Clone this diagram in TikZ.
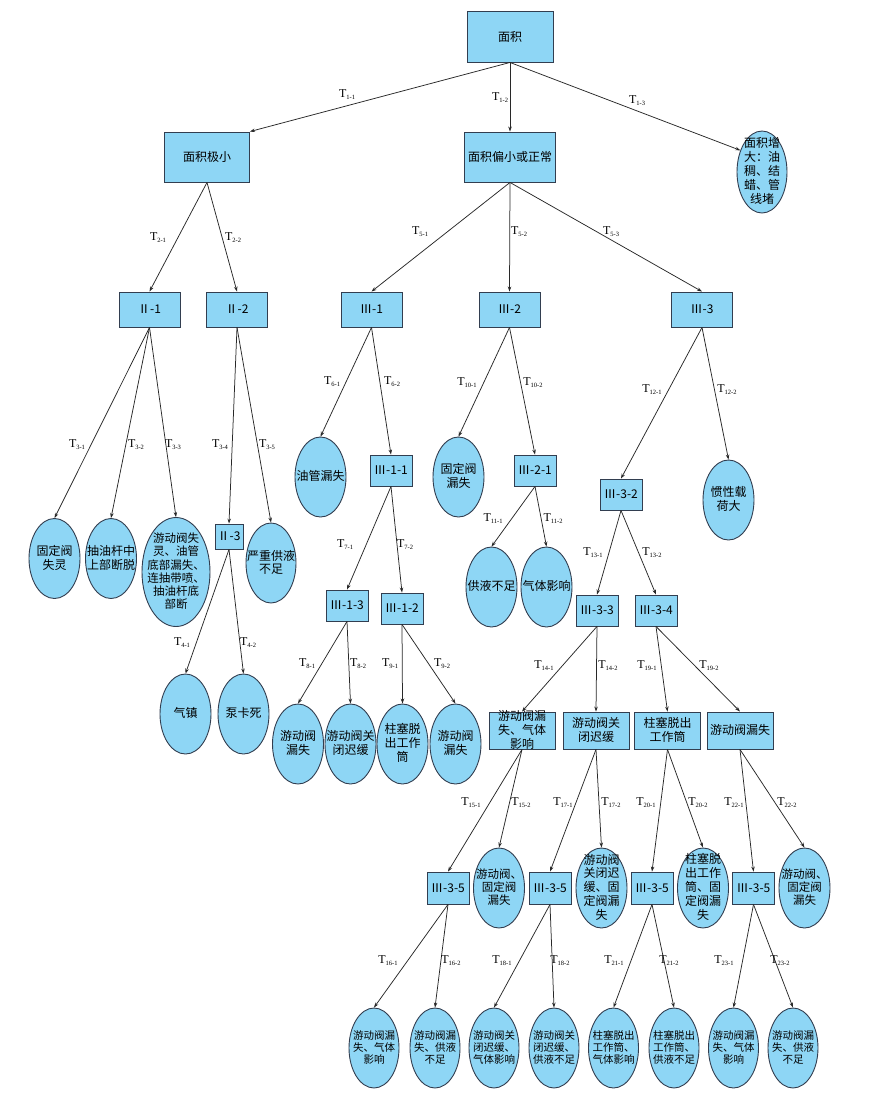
\documentclass[tikz,border=0pt]{standalone}
\usepackage{fontspec}
\newfontfamily\cjk{Noto Sans CJK SC}
\newfontfamily\tfont{Liberation Serif}
\usetikzlibrary{shapes.geometric,arrows.meta}
\definecolor{fillc}{RGB}{142,214,245}
\definecolor{linec}{RGB}{50,62,80}
\definecolor{edgec}{RGB}{40,40,40}
\newcommand\ml[1]{\smash{\makebox[0pt]{\raisebox{-3.5pt}{\begin{tabular}{@{}c@{}}#1\end{tabular}}}}}
\newcommand\tl[1]{{\tfont\fontsize{12}{12}\selectfont T\raisebox{-2pt}{\fontsize{6.5}{6.5}\selectfont #1}}}
\begin{document}
\begin{tikzpicture}[x=1pt,y=-1pt,
 box/.style={draw=linec,line width=0.9pt,fill=fillc,rectangle,inner sep=0pt,font=\cjk\fontsize{12}{12.5}\selectfont},
 ell/.style={draw=linec,line width=0.9pt,fill=fillc,ellipse,inner sep=0pt,minimum width=51pt,minimum height=80pt,font=\cjk\fontsize{12}{12.5}\selectfont},
 bx/.style={minimum width=61pt,minimum height=35pt},
 sbx/.style={minimum width=42pt,minimum height=31pt},
 rbx/.style={minimum width=66pt,minimum height=37pt},
 small/.style={font=\cjk\fontsize{10.5}{11.5}\selectfont},
 arr/.style={draw=edgec,line width=0.75pt,-{Stealth[length=5pt,width=3.5pt]}},
 lab/.style={inner sep=0pt}
]
\useasboundingbox[fill=white] (0,0) rectangle (869,1098);

% nodes
\node[box,minimum width=86pt,minimum height=51pt] (root) at (510,36.5) {面积};
\node[box,minimum width=85pt,minimum height=50pt] (a1) at (207,157) {面积极小};
\node[box,minimum width=91pt,minimum height=50pt] (a2) at (510,157) {面积偏小或正常};
\node[ell,minimum width=50pt,minimum height=82pt,font=\cjk\fontsize{12}{13}\selectfont] (a3) at (762,172) {\ml{面积增\\大：油\\稠、结\\蜡、管\\线堵}};

\node[box,bx] (b1) at (149.5,309.5) {Ⅱ-1};
\node[box,bx] (b2) at (237,309.5) {Ⅱ-2};
\node[box,bx] (c1) at (371.5,309.5) {Ⅲ-1};
\node[box,bx] (c2) at (509.5,309.5) {Ⅲ-2};
\node[box,bx] (c3) at (702,309.5) {Ⅲ-3};

\node[ell] (d1) at (54.5,558.5) {\ml{固定阀\\失灵}};
\node[ell] (d2) at (111,558.5) {\ml{抽油杆中\\上部断脱}};
\node[ell,minimum width=68pt,minimum height=109pt,font=\cjk\fontsize{11.5}{11.7}\selectfont] (d3) at (176,572) {\ml{游动阀失\\灵、油管\\底部漏失、\\连抽带喷、\\抽油杆底\\部断}};
\node[box,minimum width=28pt,minimum height=25pt] (b3) at (229,536.5) {Ⅱ-3};
\node[ell,minimum width=50pt] (d4) at (271,563) {\ml{严重供液\\不足}};
\node[ell] (d5) at (320.5,477) {\ml{油管漏失}};
\node[box,sbx] (c11) at (391,470.5) {Ⅲ-1-1};
\node[box,sbx] (c13) at (347,605.5) {Ⅲ-1-3};
\node[box,sbx] (c12) at (402,608.5) {Ⅲ-1-2};
\node[ell] (d6) at (458.5,477) {\ml{固定阀\\漏失}};
\node[box,sbx] (c21) at (535,470.5) {Ⅲ-2-1};
\node[ell] (d7) at (491.5,587) {\ml{供液不足}};
\node[ell] (d8) at (546.5,587) {\ml{气体影响}};
\node[box,sbx] (c32) at (621,494.5) {Ⅲ-3-2};
\node[ell] (d9) at (728.5,500) {\ml{惯性载\\荷大}};
\node[box,sbx] (c33) at (597,610.5) {Ⅲ-3-3};
\node[box,sbx] (c34) at (656,610.5) {Ⅲ-3-4};

\node[ell] (e1) at (185.5,714) {\ml{气镇}};
\node[ell] (e2) at (243.5,714) {\ml{泵卡死}};
\node[ell] (e3) at (298,744) {\ml{游动阀\\漏失}};
\node[ell] (e4) at (350.5,744) {\ml{游动阀关\\闭迟缓}};
\node[ell] (e5) at (402.5,744) {\ml{柱塞脱\\出工作\\筒}};
\node[ell] (e6) at (455.5,744) {\ml{游动阀\\漏失}};

\node[box,rbx] (f1) at (522,730.5) {\ml{游动阀漏\\失、气体\\影响}};
\node[box,rbx] (f2) at (596,730.5) {\ml{游动阀关\\闭迟缓}};
\node[box,rbx] (f3) at (667.5,730.5) {\ml{柱塞脱出\\工作筒}};
\node[box,rbx] (f4) at (740,730.5) {\ml{游动阀漏失}};

\node[box,sbx,minimum height=32pt] (g1) at (448,888) {Ⅲ-3-5};
\node[box,sbx,minimum height=32pt] (g2) at (550,888) {Ⅲ-3-5};
\node[box,sbx,minimum height=32pt] (g3) at (652,888) {Ⅲ-3-5};
\node[box,sbx,minimum height=32pt] (g4) at (753.5,888) {Ⅲ-3-5};
\node[ell,font=\cjk\fontsize{11.5}{11.7}\selectfont] (h1) at (499,888) {\ml{游动阀、\\固定阀\\漏失}};
\node[ell] (h2) at (601.5,888) {\ml{游动阀\\关闭迟\\缓、固\\定阀漏\\失}};
\node[ell] (h3) at (703,888) {\ml{柱塞脱\\出工作\\筒、固\\定阀漏\\失}};
\node[ell,font=\cjk\fontsize{11.5}{11.7}\selectfont] (h4) at (804.5,888) {\ml{游动阀、\\固定阀\\漏失}};

\node[ell,small,minimum width=50pt] (k1) at (374,1048) {\ml{游动阀漏\\失、气体\\影响}};
\node[ell,small,minimum width=50pt] (k2) at (435,1048) {\ml{游动阀漏\\失、供液\\不足}};
\node[ell,small,minimum width=50pt] (k3) at (494,1048) {\ml{游动阀关\\闭迟缓、\\气体影响}};
\node[ell,small,minimum width=50pt] (k4) at (554,1048) {\ml{游动阀关\\闭迟缓、\\供液不足}};
\node[ell,small,minimum width=50pt] (k5) at (613.5,1048) {\ml{柱塞脱出\\工作筒、\\气体影响}};
\node[ell,small,minimum width=50pt] (k6) at (674,1048) {\ml{柱塞脱出\\工作筒、\\供液不足}};
\node[ell,small,minimum width=50pt] (k7) at (733.5,1048) {\ml{游动阀漏\\失、气体\\影响}};
\node[ell,small,minimum width=50pt] (k8) at (793,1048) {\ml{游动阀漏\\失、供液\\不足}};

% edges
\draw[arr] (root.south) -- (a1.north east);
\draw[arr] (root.south) -- (a2.north);
\draw[arr] (root.south) -- (a3.135);
\draw[arr] (a1.south) -- (b1.north);
\draw[arr] (a1.south) -- (b2.north);
\draw[arr] (a2.south) -- (c1.north);
\draw[arr] (a2.south) -- (c2.north);
\draw[arr] (a2.south) -- (c3.north);
\draw[arr] (b1.south) -- (d1.north);
\draw[arr] (b1.south) -- (d2.north);
\draw[arr] (b1.south) -- (d3.north);
\draw[arr] (b2.south) -- (b3.north);
\draw[arr] (b2.south) -- (d4.north);
\draw[arr] (b3.south) -- (e1.north);
\draw[arr] (b3.south) -- (e2.north);
\draw[arr] (c1.south) -- (d5.north);
\draw[arr] (c1.south) -- (c11.north);
\draw[arr] (c11.south) -- (c13.north);
\draw[arr] (c11.south) -- (c12.north);
\draw[arr] (c13.south) -- (e3.north);
\draw[arr] (c13.south) -- (e4.north);
\draw[arr] (c12.south) -- (e5.north);
\draw[arr] (c12.south) -- (e6.north);
\draw[arr] (c2.south) -- (d6.north);
\draw[arr] (c2.south) -- (c21.north);
\draw[arr] (c21.south) -- (d7.north);
\draw[arr] (c21.south) -- (d8.north);
\draw[arr] (c3.south) -- (c32.north);
\draw[arr] (c3.south) -- (d9.north);
\draw[arr] (c32.south) -- (c33.north);
\draw[arr] (c32.south) -- (c34.north);
\draw[arr] (c33.south) -- (f1.north);
\draw[arr] (c33.south) -- (f2.north);
\draw[arr] (c34.south) -- (f3.north);
\draw[arr] (c34.south) -- (f4.north);
\draw[arr] (f1.south) -- (g1.north);
\draw[arr] (f1.south) -- (h1.north);
\draw[arr] (f2.south) -- (g2.north);
\draw[arr] (f2.south) -- (h2.north);
\draw[arr] (f3.south) -- (g3.north);
\draw[arr] (f3.south) -- (h3.north);
\draw[arr] (f4.south) -- (g4.north);
\draw[arr] (f4.south) -- (h4.north);
\draw[arr] (g1.south) -- (k1.north);
\draw[arr] (g1.south) -- (k2.north);
\draw[arr] (g2.south) -- (k3.north);
\draw[arr] (g2.south) -- (k4.north);
\draw[arr] (g3.south) -- (k5.north);
\draw[arr] (g3.south) -- (k6.north);
\draw[arr] (g4.south) -- (k7.north);
\draw[arr] (g4.south) -- (k8.north);

% edge labels
\node[lab] (t11) at (347,95) {\tl{1-1}};
\node[lab] (t12) at (500,98) {\tl{1-2}};
\node[lab] (t13) at (637,101) {\tl{1-3}};
\node[lab] (t21) at (158,238) {\tl{2-1}};
\node[lab] (t22) at (233,238) {\tl{2-2}};
\node[lab] (t51) at (420,232) {\tl{5-1}};
\node[lab] (t52) at (519,232) {\tl{5-2}};
\node[lab] (t53) at (611,232) {\tl{5-3}};
\node[lab] (t31) at (77,445) {\tl{3-1}};
\node[lab] (t32) at (136,445) {\tl{3-2}};
\node[lab] (t33) at (173,445) {\tl{3-3}};
\node[lab] (t34) at (220,445) {\tl{3-4}};
\node[lab] (t35) at (267,445) {\tl{3-5}};
\node[lab] (t61) at (332,382) {\tl{6-1}};
\node[lab] (t62) at (392,382) {\tl{6-2}};
\node[lab] (t71) at (345,545) {\tl{7-1}};
\node[lab] (t72) at (405,545) {\tl{7-2}};
\node[lab] (t41) at (182,643) {\tl{4-1}};
\node[lab] (t42) at (248,643) {\tl{4-2}};
\node[lab] (t81) at (307,664) {\tl{8-1}};
\node[lab] (t82) at (358,664) {\tl{8-2}};
\node[lab] (t91) at (390,664) {\tl{9-1}};
\node[lab] (t92) at (442,664) {\tl{9-2}};
\node[lab] (t101) at (467,383) {\tl{10-1}};
\node[lab] (t102) at (533,383) {\tl{10-2}};
\node[lab] (t111) at (493,519) {\tl{11-1}};
\node[lab] (t112) at (553,519) {\tl{11-2}};
\node[lab] (t121) at (652,390) {\tl{12-1}};
\node[lab] (t122) at (727,390) {\tl{12-2}};
\node[lab] (t131) at (593,553) {\tl{13-1}};
\node[lab] (t132) at (652,553) {\tl{13-2}};
\node[lab] (t141) at (544,666) {\tl{14-1}};
\node[lab] (t142) at (608,666) {\tl{14-2}};
\node[lab] (t191) at (647,666) {\tl{19-1}};
\node[lab] (t192) at (709,666) {\tl{19-2}};
\node[lab] (t151) at (471,803) {\tl{15-1}};
\node[lab] (t152) at (521,803) {\tl{15-2}};
\node[lab] (t171) at (563,803) {\tl{17-1}};
\node[lab] (t172) at (611,803) {\tl{17-2}};
\node[lab] (t201) at (646,803) {\tl{20-1}};
\node[lab] (t202) at (698,803) {\tl{20-2}};
\node[lab] (t221) at (734,803) {\tl{22-1}};
\node[lab] (t222) at (787,803) {\tl{22-2}};
\node[lab] (t161) at (388,961) {\tl{16-1}};
\node[lab] (t162) at (451,961) {\tl{16-2}};
\node[lab] (t181) at (502,961) {\tl{18-1}};
\node[lab] (t182) at (560,961) {\tl{18-2}};
\node[lab] (t211) at (614,961) {\tl{21-1}};
\node[lab] (t212) at (669,961) {\tl{21-2}};
\node[lab] (t231) at (724,961) {\tl{23-1}};
\node[lab] (t232) at (780,961) {\tl{23-2}};
\end{tikzpicture}
\end{document}
